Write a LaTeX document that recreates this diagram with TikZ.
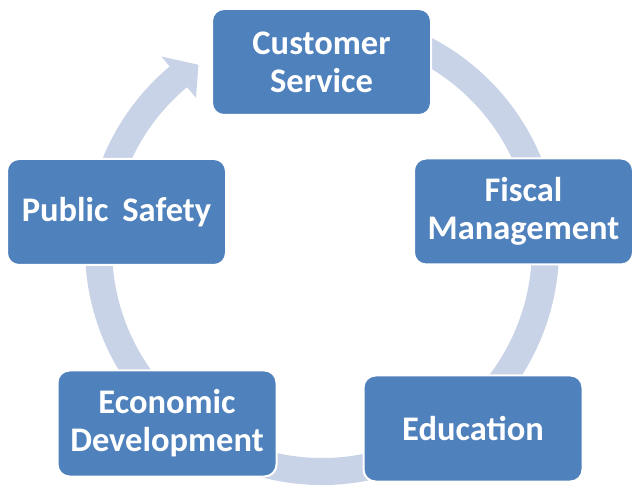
\documentclass[tikz,border=0pt]{standalone}
\usepackage{fontspec}
\setmainfont{Carlito}
\definecolor{cycleblue}{RGB}{79,129,189}
\definecolor{ringgrey}{RGB}{201,211,231}
\usetikzlibrary{calc}

\begin{document}
\begin{tikzpicture}[x=1pt, y=1pt,
        areabox/.style={rectangle, rounded corners=12pt, fill=cycleblue, draw=white, line width=2pt,
            minimum width=219pt, minimum height=106pt, align=center, text=white,
            font=\fontsize{34.5}{38}\selectfont\bfseries}]
    \useasboundingbox (0,0) rectangle (632,493);
    % circular arrow running behind the boxes
    \begin{scope}[shift={(322,245)}]
        \fill[ringgrey] (100:237) arc[start angle=100, end angle=-230, radius=237]
            -- (-230:250) -- (-236:221) -- (-230:196) -- (-230:210)
            arc[start angle=-230, end angle=100, radius=210] -- cycle;
    \end{scope}
    % the five areas
    \node[areabox] (customer) at (321.5,431) {Customer\\Service};
    \node[areabox] (fiscal) at (523.5,281.5) {Fiscal\\Management};
    \node[areabox] (education) at (473,64.5) {Education};
    \node[areabox] (economic) at (167,69.5) {Economic\\Development};
    \node[areabox] (safety) at (116.5,281) {Public\hspace{0.4em}Safety};
\end{tikzpicture}
\end{document}
